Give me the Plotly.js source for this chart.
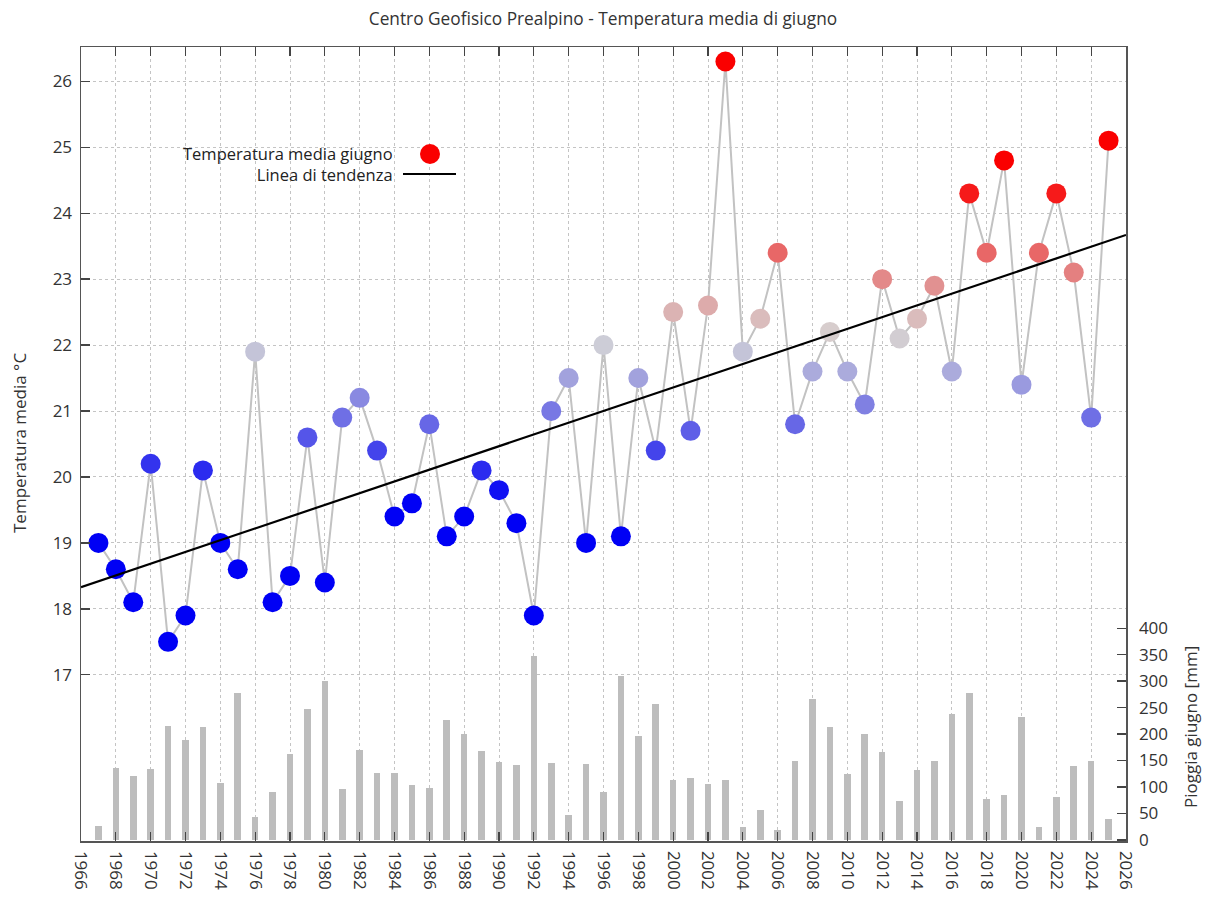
<!DOCTYPE html>
<html>
<head>
<meta charset="utf-8">
<script src="https://cdn.plot.ly/plotly-3.0.1.min.js"></script>
<style>html,body{margin:0;padding:0;background:#fff;}#chart{width:1206px;height:899px;}</style>
</head>
<body>
<div id="chart"></div>
<script>
const years = [1967,1968,1969,1970,1971,1972,1973,1974,1975,1976,1977,1978,1979,1980,1981,1982,1983,1984,1985,1986,1987,1988,1989,1990,1991,1992,1993,1994,1995,1996,1997,1998,1999,2000,2001,2002,2003,2004,2005,2006,2007,2008,2009,2010,2011,2012,2013,2014,2015,2016,2017,2018,2019,2020,2021,2022,2023,2024,2025];
const tempMedia = [19.0,18.6,18.1,20.2,17.5,17.9,20.1,19.0,18.6,21.9,18.1,18.5,20.6,18.4,20.9,21.2,20.4,19.4,19.6,20.8,19.1,19.4,20.1,19.8,19.3,17.9,21.0,21.5,19.0,22.0,19.1,21.5,20.4,22.5,20.7,22.6,26.3,21.9,22.4,23.4,20.8,21.6,22.2,21.6,21.1,23.0,22.1,22.4,22.9,21.6,24.3,23.4,24.8,21.4,23.4,24.3,23.1,20.9,25.1];
const pioggia = [26,135,121,134,216,188,214,108,277,43,91,163,247,301,96,169,126,126,104,98,227,201,168,147,141,348,145,48,143,91,309,197,257,113,117,106,113,25,57,18,150,266,213,124,201,167,74,132,150,238,277,77,85,232,25,81,139,150,40];
const trendYears = [1966, 2026];
const trendValues = [18.33, 23.67];
const xTicks = [1966,1968,1970,1972,1974,1976,1978,1980,1982,1984,1986,1988,1990,1992,1994,1996,1998,2000,2002,2004,2006,2008,2010,2012,2014,2016,2018,2020,2022,2024,2026];
const tempTicks = [17,18,19,20,21,22,23,24,25,26];
const rainTicks = [0,50,100,150,200,250,300,350,400];
const legendLabels = ['Temperatura media giugno', 'Linea di tendenza'];

const W = 1206, H = 899, L = 81, R = 1126, T = 47, B = 841;
const px = v => (v - L) / (R - L);
const py = v => (B - v) / (B - T);
const FONT = '"Open Sans", "Noto Sans", sans-serif';
const FS = 17;

const traces = [
  {
    type: 'bar', x: years, y: pioggia, yaxis: 'y2', width: 0.38,
    marker: {color: '#bdbdbd', line: {width: 0}}, showlegend: false, hoverinfo: 'x+y'
  },
  {
    type: 'scatter', mode: 'lines+markers', x: years, y: tempMedia,
    line: {color: '#c2c2c2', width: 2},
    marker: {
      size: 20, color: tempMedia, cmin: 19.6, cmax: 24.6,
      colorscale: [[0, 'rgb(0,0,245)'], [0.48, 'rgb(205,205,215)'], [0.52, 'rgb(215,205,205)'], [1, 'rgb(250,0,0)']],
      line: {width: 0}
    },
    showlegend: false
  },
  {
    type: 'scatter', mode: 'lines', x: trendYears, y: trendValues,
    line: {color: '#000', width: 2.2}, showlegend: false
  }
];

const layout = {
  width: W, height: H,
  margin: {l: L, r: W - R, t: T, b: H - B, pad: 0},
  paper_bgcolor: '#fff', plot_bgcolor: '#fff',
  font: {family: FONT, size: FS, color: '#333'},
  title: {text: 'Centro Geofisico Prealpino - Temperatura media di giugno', font: {family: FONT, size: 17.3, color: '#333'}, x: 0.5, xanchor: 'center', y: 1 - 19 / H, yanchor: 'middle'},
  showlegend: false,
  bargap: 0,
  xaxis: {
    range: [1966, 2026], tickmode: 'array', tickvals: xTicks, ticktext: xTicks.map(String),
    tickangle: 90, ticks: 'inside', ticklen: 9, tickcolor: '#444', tickwidth: 1.3,
    ticklabelstandoff: 5,
    showline: true, linecolor: '#555', linewidth: 1.5, mirror: 'ticks',
    showgrid: true, gridcolor: '#c4c4c4', griddash: 'dot', gridwidth: 1,
    zeroline: false, tickfont: {family: FONT, size: FS, color: '#333'}
  },
  yaxis: {
    range: [14.48, 26.52], tickmode: 'array', tickvals: tempTicks,
    ticks: 'inside', ticklen: 9, tickcolor: '#444', tickwidth: 1.3,
    ticklabelstandoff: 4,
    showline: true, linecolor: '#555', linewidth: 1.5,
    showgrid: true, gridcolor: '#c4c4c4', griddash: 'dot', gridwidth: 1,
    zeroline: false, tickfont: {family: FONT, size: FS, color: '#333'}
  },
  yaxis2: {
    overlaying: 'y', side: 'right', range: [-2, 1498], tickmode: 'array', tickvals: rainTicks,
    ticks: 'inside', ticklen: 9, tickcolor: '#444', tickwidth: 1.3,
    ticklabelstandoff: 8,
    showline: true, linecolor: '#555', linewidth: 1.5,
    showgrid: false, zeroline: false, tickfont: {family: FONT, size: FS, color: '#333'}
  },
  shapes: [
    {type: 'rect', xref: 'paper', yref: 'paper', x0: px(168), x1: px(466), y0: py(184), y1: py(148), fillcolor: '#fff', line: {width: 0}, layer: 'below'},
    {type: 'circle', xref: 'paper', yref: 'paper', x0: px(420), x1: px(440), y0: py(164), y1: py(144), fillcolor: 'rgb(250,0,0)', line: {width: 0}},
    {type: 'line', xref: 'paper', yref: 'paper', x0: px(403), x1: px(456), y0: py(174), y1: py(174), line: {color: '#000', width: 2.2}}
  ],
  annotations: [
    {xref: 'paper', yref: 'paper', x: px(394), y: py(164), xanchor: 'right', yanchor: 'middle', align: 'right', text: legendLabels.join('<br>'), showarrow: false, borderpad: 0, font: {family: FONT, size: 16.5, color: '#222'}},
    {xref: 'paper', yref: 'paper', x: px(20), y: py(443), xanchor: 'center', yanchor: 'middle', textangle: -90, text: 'Temperatura media °C', showarrow: false, font: {family: FONT, size: FS, color: '#333'}},
    {xref: 'paper', yref: 'paper', x: px(1190), y: py(727), xanchor: 'center', yanchor: 'middle', textangle: -90, text: 'Pioggia giugno [mm]', showarrow: false, font: {family: FONT, size: FS, color: '#333'}}
  ]
};

Plotly.newPlot('chart', traces, layout, {displayModeBar: false, staticPlot: true});
</script>
</body>
</html>
